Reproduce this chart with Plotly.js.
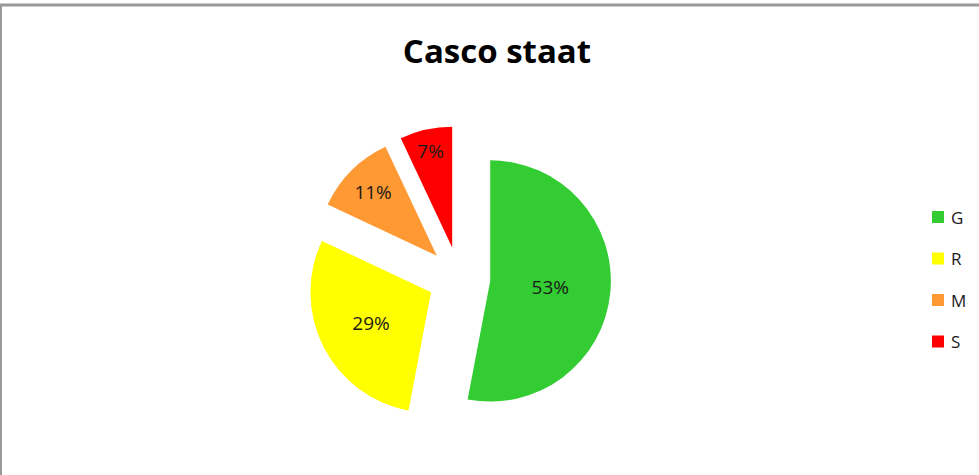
<!DOCTYPE html>
<html>
<head>
<meta charset="utf-8">
<script src="https://cdn.plot.ly/plotly-3.0.1.min.js"></script>
<style>
  html, body { margin: 0; padding: 0; background: #ffffff; }
  #chart { width: 979px; height: 475px; }
</style>
</head>
<body>
<div id="chart"></div>
<script>
// ---- data ----
const categories = ["G", "R", "M", "S"];
const values = [53, 29, 11, 7];
const sliceColors = ["#33CC33", "#FFFF00", "#FF9933", "#FF0000"];
const chartTitle = "Casco staat";

// ---- layout helpers ----
const W = 979, H = 475;
const px = x => x / W;
const py = y => 1 - y / H;

const FONT = "'Open Sans', 'Noto Sans', sans-serif";

const cx = 459, cy = 278, halfBox = 152;

const trace = {
  type: "pie",
  labels: categories,
  values: values,
  sort: false,
  direction: "clockwise",
  rotation: 0,
  pull: categories.map(() => 0.26),
  marker: { colors: sliceColors, line: { width: 0 } },
  textinfo: "percent",
  texttemplate: "%{percent:.0%}",
  textposition: "inside",
  insidetextorientation: "horizontal",
  textfont: { family: FONT, size: 19, color: "#1a1a1a" },
  showlegend: false,
  hoverinfo: "label+percent",
  domain: { x: [px(cx - 200), px(cx + 200)], y: [py(cy + halfBox), py(cy - halfBox)] }
};

// custom legend built from categories/colors
const legendTop = 217, legendStep = 41.5;
const shapes = [];
const annotations = [];
categories.forEach((c, i) => {
  const yc = legendTop + legendStep * i;
  shapes.push({
    type: "rect", xref: "paper", yref: "paper",
    x0: px(932), x1: px(944), y0: py(yc + 6), y1: py(yc - 6),
    fillcolor: sliceColors[i], line: { width: 0 }
  });
  annotations.push({
    xref: "paper", yref: "paper", x: px(949), y: py(yc),
    xanchor: "left", yanchor: "middle", showarrow: false,
    text: c, font: { family: FONT, size: 17, color: "#1a1a1a" }
  });
});

// chart border (top and left edges visible in the crop)
shapes.push({
  type: "line", xref: "paper", yref: "paper",
  x0: 0, x1: 1, y0: py(5), y1: py(5),
  line: { color: "#9a9a9a", width: 3 }
});
shapes.push({
  type: "line", xref: "paper", yref: "paper",
  x0: px(1), x1: px(1), y0: py(5), y1: 0,
  line: { color: "#9a9a9a", width: 2 }
});

const layout = {
  width: W, height: H,
  margin: { l: 0, r: 0, t: 0, b: 0 },
  paper_bgcolor: "#ffffff",
  plot_bgcolor: "#ffffff",
  title: {
    text: "<b>" + chartTitle + "</b>",
    x: px(497), xanchor: "center",
    y: py(51), yanchor: "middle",
    font: { family: FONT, size: 33, color: "#000000" }
  },
  shapes: shapes,
  annotations: annotations,
  showlegend: false
};

Plotly.newPlot("chart", [trace], layout, { displayModeBar: false, staticPlot: true });
</script>
</body>
</html>
